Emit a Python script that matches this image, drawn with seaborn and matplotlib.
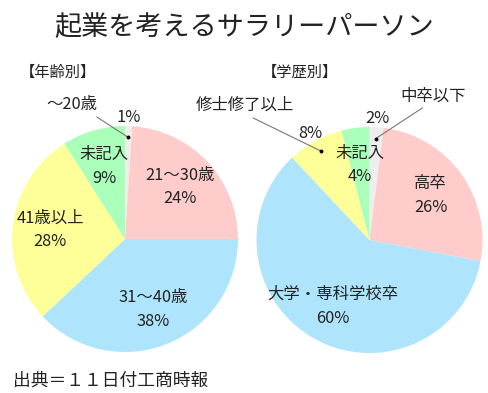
import numpy as np
import matplotlib
matplotlib.use("Agg")
import matplotlib.pyplot as plt
import seaborn as sns

# データ
age_labels = ["～20歳", "21～30歳", "31～40歳", "41歳以上", "未記入"]
age_values = [1, 24, 38, 28, 9]
edu_labels = ["中卒以下", "高卒", "大学・専科学校卒", "修士修了以上", "未記入"]
edu_values = [2, 26, 60, 8, 4]

title = "起業を考えるサラリーパーソン"
age_title = "【年齢別】"
edu_title = "【学歴別】"
source = "出典＝１１日付工商時報"

sns.set_theme(style="white")
plt.rcParams['font.family'] = ['Noto Sans CJK JP', 'DejaVu Sans']

colors = ["#EEEEEE", "#FFCCCC", "#AEE5FD", "#FFFF99", "#AAFFBB"]
txt_color = "#222222"
fs = 11.8

W, H = 488, 393
fig = plt.figure(figsize=(W / 100, H / 100), dpi=100)
fig.patch.set_facecolor("white")


def pie_axes(cx, cy, r):
    return fig.add_axes([(cx - r) / W, (H - cy - r) / H, 2 * r / W, 2 * r / H])


def draw_pie(ax, labels, values, outside):
    wedges, _ = ax.pie(values, colors=colors, startangle=90, counterclock=False,
                       wedgeprops=dict(linewidth=0))
    ax.set_xlim(-1, 1)
    ax.set_ylim(-1, 1)
    total = sum(values)
    for i, (w, lab, v) in enumerate(zip(wedges, labels, values)):
        mid = np.deg2rad((w.theta1 + w.theta2) / 2)
        c, s = np.cos(mid), np.sin(mid)
        pct = f"{round(v / total * 100)}%"
        if i in outside:
            name_xy, line_start = outside[i]
            dot = (0.9 * c, 0.9 * s)
            ax.text(1.08 * c, 1.08 * s, pct, ha="center", va="center",
                    fontsize=fs, color=txt_color, clip_on=False)
            ax.text(name_xy[0], name_xy[1], lab, ha="center", va="center",
                    fontsize=fs, color=txt_color, clip_on=False)
            ax.plot([line_start[0], dot[0]], [line_start[1], dot[1]],
                    color="#777777", lw=0.8, clip_on=False)
            ax.plot(dot[0], dot[1], "o", color="black", ms=1.8, clip_on=False)
        else:
            d = 0.67
            ax.text(d * c, d * s, lab + "\n" + pct, ha="center", va="center",
                    fontsize=fs, color=txt_color, linespacing=1.5)


ax1 = pie_axes(125, 239, 113)
draw_pie(ax1, age_labels, age_values,
         {0: ((-0.47, 1.19), (-0.25, 1.08))})

ax2 = pie_axes(369.5, 240, 113)
draw_pie(ax2, edu_labels, edu_values,
         {0: ((0.56, 1.27), (0.47, 1.17)),
          3: ((-1.10, 1.19), (-1.03, 1.08))})

fig.text(244 / W, 1 - 28 / H, title, ha="center", va="center",
         fontsize=19.5, color=txt_color)
fig.text(58 / W, 1 - 72 / H, age_title, ha="center", va="center",
         fontsize=11, color=txt_color)
fig.text(300 / W, 1 - 72 / H, edu_title, ha="center", va="center",
         fontsize=11, color=txt_color)
fig.text(13 / W, 1 - 381 / H, source, ha="left", va="center",
         fontsize=12.8, color=txt_color)

fig.savefig("out.png", dpi=100, facecolor="white")
